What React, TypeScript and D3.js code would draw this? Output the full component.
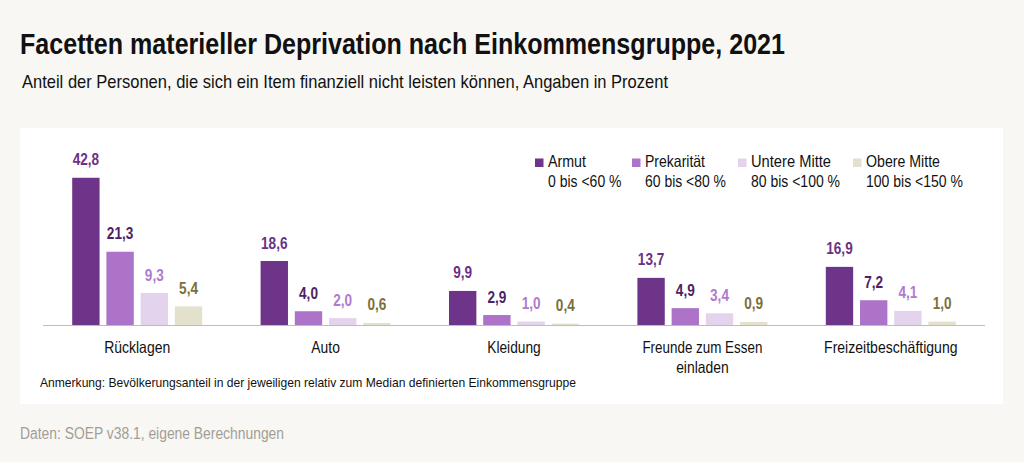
import * as d3 from 'd3'

const categories = ['Rücklagen', 'Auto', 'Kleidung', 'Freunde zum Essen einladen', 'Freizeitbeschäftigung']
const categoryLines = [['Rücklagen'], ['Auto'], ['Kleidung'], ['Freunde zum Essen', 'einladen'], ['Freizeitbeschäftigung']]
const groups = ['Armut', 'Prekarität', 'Untere Mitte', 'Obere Mitte']
const groupRanges = ['0 bis <60 %', '60 bis <80 %', '80 bis <100 %', '100 bis <150 %']

const armut = [42.8, 18.6, 9.9, 13.7, 16.9]
const prekaritaet = [21.3, 4.0, 2.9, 4.9, 7.2]
const untereMitte = [9.3, 2.0, 1.0, 3.4, 4.1]
const obereMitte = [5.4, 0.6, 0.4, 0.9, 1.0]
const series = [armut, prekaritaet, untereMitte, obereMitte]

const barColors = ['#6e3489', '#ad73c8', '#e4d3ec', '#e3e0cc']
const labelColors = ['#6b3185', '#4d2263', '#b07ad0', '#7b6f3c']

// condensed look: Liberation Sans squeezed horizontally
const font = '"Liberation Sans", Arial, sans-serif'
const squeeze = 0.8
const fmt = (v: number) => v.toFixed(1).replace('.', ',')

// target widths of the condensed texts
const categoryWidths = [[66], [28.5], [53.5], [120, 52.5], [133.5]]
const legendWidths = [[38, 73.5], [60, 81], [80, 89], [74, 97]]
const legendX = [535, 632, 738, 853]

function SqText({ x, y, size, bold, fill, anchor, children }: {
  x: number, y: number, size: number, bold?: boolean, fill: string, anchor?: string, children: string
}) {
  return (
    <text
      transform={`translate(${x},${y}) scale(${squeeze},1)`}
      fontSize={size}
      fontWeight={bold ? 'bold' : 'normal'}
      fill={fill}
      textAnchor={anchor ?? 'start'}
    >
      {children}
    </text>
  )
}

export default function App() {
  const width = 1024
  const height = 462
  const baseline = 325

  const x0 = d3.scaleBand<string>()
    .domain(categories)
    .range([43, 985])
    .paddingInner(0.31)
    .paddingOuter(0.155)

  const x1 = d3.scaleBand<string>()
    .domain(groups)
    .range([0, x0.bandwidth()])
    .paddingInner(0.2)

  const y = d3.scaleLinear().domain([0, 50]).range([baseline, baseline - 172])

  return (
    <div style={{ position: 'absolute', left: 0, top: 0 }}>
      <svg width={width} height={height} style={{ display: 'block', fontFamily: font }}>
        <rect width={width} height={height} fill="#f8f7f4" />
        <rect x={20} y={128} width={983} height={276} fill="#ffffff" />

        <text x={20} y={53.5} fontSize={30} fontWeight="bold" fill="#111"
          textLength={765} lengthAdjust="spacingAndGlyphs">
          Facetten materieller Deprivation nach Einkommensgruppe, 2021
        </text>
        <text x={22} y={88} fontSize={19} fill="#111"
          textLength={646} lengthAdjust="spacingAndGlyphs">
          Anteil der Personen, die sich ein Item finanziell nicht leisten können, Angaben in Prozent
        </text>

        {categories.map((c, ci) => (
          <g key={c} transform={`translate(${x0(c)},0)`}>
            {groups.map((g, gi) => {
              const v = series[gi][ci]
              const bx = x1(g) ?? 0
              return (
                <g key={g}>
                  <rect
                    x={bx}
                    y={y(v)}
                    width={x1.bandwidth()}
                    height={baseline - y(v)}
                    fill={barColors[gi]}
                  />
                  <SqText
                    x={bx + x1.bandwidth() / 2}
                    y={y(v) - 12.5}
                    size={17}
                    bold
                    anchor="middle"
                    fill={labelColors[gi]}
                  >
                    {fmt(v)}
                  </SqText>
                </g>
              )
            })}
            {categoryLines[ci].map((line, li) => (
              <text
                key={line}
                x={x0.bandwidth() / 2}
                y={353 + li * 20}
                textAnchor="middle"
                fontSize={16.5}
                fill="#111"
                textLength={categoryWidths[ci][li]}
                lengthAdjust="spacingAndGlyphs"
              >
                {line}
              </text>
            ))}
          </g>
        ))}

        <line x1={43} x2={985} y1={baseline + 0.5} y2={baseline + 0.5} stroke="#bdbdbd" strokeWidth={1} />

        {groups.map((g, gi) => (
          <g key={g} transform={`translate(${legendX[gi]},0)`}>
            <rect x={0} y={158.5} width={8.5} height={8.5} fill={barColors[gi]} />
            <text x={13} y={167} fontSize={16.5} fill="#111"
              textLength={legendWidths[gi][0]} lengthAdjust="spacingAndGlyphs">{g}</text>
            <text x={13} y={187} fontSize={16.5} fill="#111"
              textLength={legendWidths[gi][1]} lengthAdjust="spacingAndGlyphs">{groupRanges[gi]}</text>
          </g>
        ))}

        <text x={40} y={387} fontSize={13.5} fill="#111"
          textLength={536} lengthAdjust="spacingAndGlyphs">
          Anmerkung: Bevölkerungsanteil in der jeweiligen relativ zum Median definierten Einkommensgruppe
        </text>
        <text x={20} y={439} fontSize={16} fill="#a29e96"
          textLength={264} lengthAdjust="spacingAndGlyphs">
          Daten: SOEP v38.1, eigene Berechnungen
        </text>
      </svg>
    </div>
  )
}
